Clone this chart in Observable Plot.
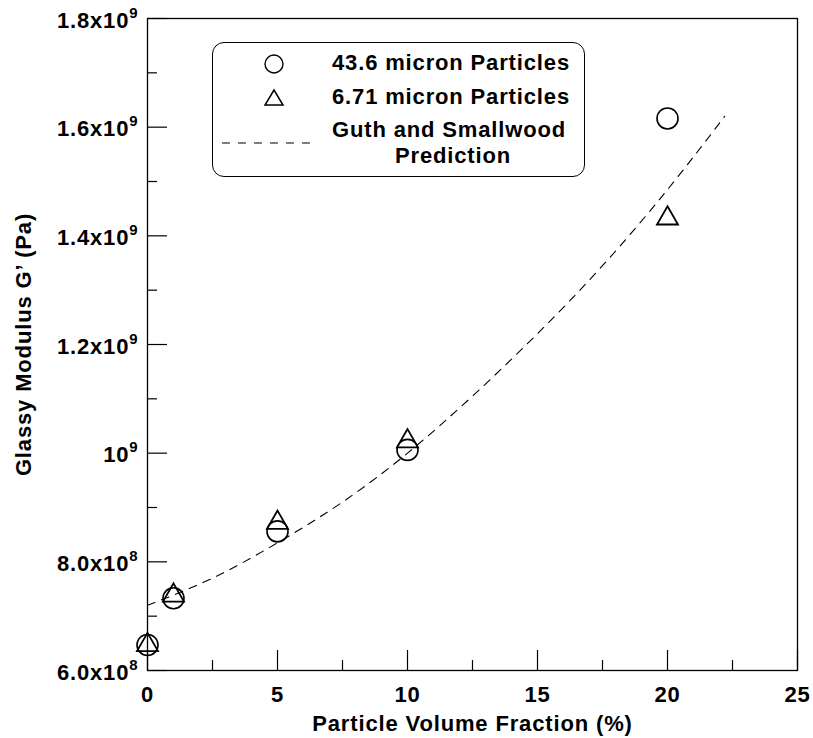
<!DOCTYPE html>
<html>
<head>
<meta charset="utf-8">
<script src="https://cdn.jsdelivr.net/npm/d3@7"></script>
<script src="https://cdn.jsdelivr.net/npm/@observablehq/plot@0.6"></script>
<style>
  html, body { margin: 0; padding: 0; background: #fff; }
  #wrap { position: relative; width: 813px; height: 738px; font-family: "Liberation Sans", Arial, Helvetica, sans-serif; font-weight: bold; }
  #legend { position: absolute; left: 212px; top: 42px; width: 373px; height: 135px; border: 1.3px solid #000; border-radius: 12px; box-sizing: border-box; }
  .lg { position: absolute; font-size: 22px; letter-spacing: 0.85px; color: #000; white-space: nowrap; line-height: 1; }
  .sym { position: absolute; }
</style>
</head>
<body>
<div id="wrap">
  <div id="chart"></div>
  <div id="legend"></div>
</div>
<script>
// ---- data ----
const fraction = [0, 1, 5, 10, 20];
const large = [6.47e8, 7.33e8, 8.56e8, 1.006e9, 1.616e9];   // 43.6 micron
const small = [6.47e8, 7.38e8, 8.72e8, 1.022e9, 1.432e9];   // 6.71 micron
const predX = [0, 2.5, 5, 7.5, 10, 12.5, 15, 17.5, 20, 22.2];
const predY = [7.2e8, 7.7e8, 8.35e8, 9.1e8, 1.0e9, 1.105e9, 1.22e9, 1.345e9, 1.485e9, 1.62e9];
const seriesNames = ["43.6 micron Particles", "6.71 micron Particles", "Guth and Smallwood", "Prediction"];
const xTicks = [0, 5, 10, 15, 20, 25];
const xMinor = [2.5, 7.5, 12.5, 17.5, 22.5];
const yTicks = [6e8, 8e8, 1e9, 1.2e9, 1.4e9, 1.6e9, 1.8e9];
const yLabels = ["6.0x10^8", "8.0x10^8", "10^9", "1.2x10^9", "1.4x10^9", "1.6x10^9", "1.8x10^9"];
const yMinor = [7e8, 9e8, 1.1e9, 1.3e9, 1.5e9, 1.7e9];
const xTitle = "Particle Volume Fraction (%)";
const yTitle = "Glassy Modulus G\u2019 (Pa)";

// ---- tables ----
const largeData = fraction.map((x, i) => ({x, y: large[i]}));
const smallData = fraction.map((x, i) => ({x, y: small[i]}));
const predData = predX.map((x, i) => ({x, y: predY[i]}));

const W = 813, H = 738;
const mL = 147, mR = 16, mT = 18, mB = 68;
const plotW = W - mL - mR, plotH = H - mT - mB;

const chart = Plot.plot({
  width: W, height: H,
  marginLeft: mL, marginRight: mR, marginTop: mT, marginBottom: mB,
  style: {fontFamily: "'Liberation Sans', Arial, Helvetica, sans-serif", fontSize: "22px", fontWeight: "bold", letterSpacing: "0.85px", color: "#000", background: "#fff"},
  x: {domain: [0, 25]},
  y: {domain: [6e8, 1.8e9]},
  marks: [
    Plot.frame({stroke: "#000", strokeWidth: 1.3}),
    // major / minor ticks drawn inward
    Plot.tickX(xTicks, {x: d => d, insetTop: plotH - 20, stroke: "#000", strokeWidth: 1.2}),
    Plot.tickX(xMinor, {x: d => d, insetTop: plotH - 10, stroke: "#000", strokeWidth: 1.2}),
    Plot.tickY(yTicks, {y: d => d, insetRight: plotW - 20, stroke: "#000", strokeWidth: 1.2}),
    Plot.tickY(yMinor, {y: d => d, insetRight: plotW - 10, stroke: "#000", strokeWidth: 1.2}),
    Plot.axisX(xTicks, {tickSize: 0, tickPadding: 16, tickFormat: d => String(d), label: xTitle, labelAnchor: "center", labelOffset: 60, labelArrow: "none"}),
    Plot.axisY(yTicks, {tickSize: 0, tickPadding: 9, dy: 2, tickFormat: d => yLabels[yTicks.indexOf(d)], label: yTitle, labelAnchor: "center", labelOffset: 132, labelArrow: "none"}),
    Plot.line(predData, {x: "x", y: "y", curve: "natural", stroke: "#000", strokeWidth: 1.1, strokeDasharray: "8,7"}),
    Plot.dot(largeData, {x: "x", y: "y", symbol: "circle", r: 10.5, stroke: "#000", strokeWidth: 1.6, fill: "none"}),
    Plot.dot(smallData, {x: "x", y: "y", symbol: "triangle", r: 7.8, stroke: "#000", strokeWidth: 1.8, fill: "none"})
  ]
});
document.getElementById("chart").appendChild(chart);

// superscript exponents in y tick labels
const svg = chart.tagName.toLowerCase() === "svg" ? chart : chart.querySelector("svg");
svg.querySelectorAll('[aria-label="y-axis tick label"] text').forEach(t => {
  const s = t.textContent;
  const k = s.indexOf("^");
  if (k < 0) return;
  t.textContent = "";
  const ns = "http://www.w3.org/2000/svg";
  const a = document.createElementNS(ns, "tspan");
  a.textContent = s.slice(0, k);
  const b = document.createElementNS(ns, "tspan");
  b.textContent = s.slice(k + 1);
  b.setAttribute("dy", "-10");
  b.setAttribute("font-size", "15");
  t.appendChild(a); t.appendChild(b);
});

// legend
const lg = document.getElementById("legend");
function addText(txt, left, top) {
  const d = document.createElement("div");
  d.className = "lg"; d.textContent = txt;
  d.style.left = left + "px"; d.style.top = top + "px";
  lg.appendChild(d);
}
function addSym(svgInner, left, top, w, h) {
  const d = document.createElement("div");
  d.className = "sym";
  d.style.left = left + "px"; d.style.top = top + "px";
  d.innerHTML = `<svg width="${w}" height="${h}">${svgInner}</svg>`;
  lg.appendChild(d);
}
addSym('<circle cx="11" cy="11" r="9" fill="none" stroke="#000" stroke-width="1.4"/>', 50, 10, 22, 22);
addSym('<path d="M11,2 L20,17 L2,17 Z" fill="none" stroke="#000" stroke-width="1.5"/>', 50, 45, 22, 20);
addSym('<line x1="0" y1="5" x2="96" y2="5" stroke="#000" stroke-width="1.1" stroke-dasharray="8,8"/>', 9, 91, 100, 10);
addText(seriesNames[0], 119, 9);
addText(seriesNames[1], 119, 43);
addText(seriesNames[2], 119, 76);
addText(seriesNames[3], 182, 102);
</script>
</body>
</html>
